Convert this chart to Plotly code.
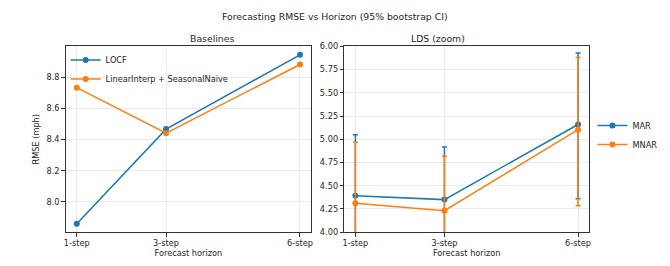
import plotly.graph_objects as go

horizons = [1, 3, 6]
horizon_labels = ["1-step", "3-step", "6-step"]

locf = [7.86, 8.467, 8.944]
linear_seasonal = [8.733, 8.441, 8.882]

mar = [4.391, 4.350, 5.159]
mar_upper = [5.048, 4.916, 5.930]
mar_lower = [3.73, 3.78, 4.360]

mnar = [4.311, 4.231, 5.103]
mnar_upper = [4.968, 4.817, 5.880]
mnar_lower = [3.65, 3.64, 4.283]

BLUE = "#1f77b4"
ORANGE = "#ff7f0e"
FONT = "DejaVu Sans"
TXT = "#262626"
FS = 8.2
TFS = 9.3

fig = go.Figure()

fig.add_trace(go.Scatter(x=horizons, y=locf, mode="lines+markers", name="LOCF",
                         line=dict(color=BLUE, width=1.5), marker=dict(size=6, color=BLUE),
                         xaxis="x", yaxis="y", legend="legend"))
fig.add_trace(go.Scatter(x=horizons, y=linear_seasonal, mode="lines+markers",
                         name="LinearInterp + SeasonalNaive",
                         line=dict(color=ORANGE, width=1.5), marker=dict(size=6, color=ORANGE),
                         xaxis="x", yaxis="y", legend="legend"))

def err(vals, up, lo):
    return ([u - v for u, v in zip(up, vals)], [v - l for v, l in zip(vals, lo)])

e_up, e_lo = err(mar, mar_upper, mar_lower)
fig.add_trace(go.Scatter(x=horizons, y=mar, mode="lines+markers", name="MAR",
                         line=dict(color=BLUE, width=1.5), marker=dict(size=6, color=BLUE),
                         error_y=dict(type="data", symmetric=False, array=e_up, arrayminus=e_lo,
                                      color=BLUE, thickness=1.5, width=2.5),
                         xaxis="x2", yaxis="y2", legend="legend2"))
e_up, e_lo = err(mnar, mnar_upper, mnar_lower)
fig.add_trace(go.Scatter(x=horizons, y=mnar, mode="lines+markers", name="MNAR",
                         line=dict(color=ORANGE, width=1.5), marker=dict(size=6, color=ORANGE),
                         error_y=dict(type="data", symmetric=False, array=e_up, arrayminus=e_lo,
                                      color=ORANGE, thickness=1.5, width=2.5),
                         xaxis="x2", yaxis="y2", legend="legend2"))

axis_common = dict(showline=True, linecolor="#333333", linewidth=1, mirror=True,
                   ticks="outside", ticklen=3.5, tickcolor="#333333", tickwidth=0.8,
                   showgrid=True, gridcolor="#ebebeb", gridwidth=0.8, zeroline=False,
                   tickfont=dict(family=FONT, size=FS, color=TXT))

ydom = [1 - 236 / 266, 1 - 43 / 266]
fig.update_layout(
    width=670, height=266,
    margin=dict(l=0, r=0, t=0, b=0),
    paper_bgcolor="white", plot_bgcolor="white",
    font=dict(family=FONT, size=FS, color=TXT),
    xaxis=dict(domain=[64 / 670, 311 / 670], range=[0.75, 6.25], tickvals=horizons,
               ticktext=horizon_labels, anchor="y",
               title=dict(text="Forecast horizon", font=dict(size=FS), standoff=1), **axis_common),
    yaxis=dict(domain=ydom, range=[7.806, 8.998], tickvals=[8.0, 8.2, 8.4, 8.6, 8.8],
               tickformat=".1f", anchor="x",
               title=dict(text="RMSE (mph)", font=dict(size=FS), standoff=5), **axis_common),
    xaxis2=dict(domain=[344.3 / 670, 590.7 / 670], range=[0.75, 6.25], tickvals=horizons,
                ticktext=horizon_labels, anchor="y2",
                title=dict(text="Forecast horizon", font=dict(size=FS), standoff=1), **axis_common),
    yaxis2=dict(domain=ydom, range=[4.0, 6.0], tickvals=[4.0, 4.25, 4.5, 4.75, 5.0, 5.25, 5.5, 5.75, 6.0],
                tickformat=".2f", anchor="x2", **axis_common),
    legend=dict(x=64 / 670, y=1 - 42 / 266, xanchor="left", yanchor="top",
                bgcolor="rgba(255,255,255,0)", font=dict(family=FONT, size=FS, color=TXT),
                tracegroupgap=0, itemwidth=30),
    legend2=dict(x=594 / 670, y=1 - 135 / 266, xanchor="left", yanchor="middle",
                 bgcolor="rgba(255,255,255,0)", font=dict(family=FONT, size=FS, color=TXT),
                 itemwidth=30),
    annotations=[
        dict(text="Forecasting RMSE vs Horizon (95% bootstrap CI)", x=0.5, y=1 - 12 / 266,
             xref="paper", yref="paper", showarrow=False, yanchor="middle",
             font=dict(family=FONT, size=TFS, color=TXT)),
        dict(text="Baselines", x=187.5 / 670, y=1 - 35 / 266, xref="paper", yref="paper",
             showarrow=False, yanchor="middle", font=dict(family=FONT, size=TFS, color=TXT)),
        dict(text="LDS (zoom)", x=467.5 / 670, y=1 - 35 / 266, xref="paper", yref="paper",
             showarrow=False, yanchor="middle", font=dict(family=FONT, size=TFS, color=TXT)),
    ],
)

fig.write_html("out.html", config={"displayModeBar": False},
               post_script="document.body.style.margin='0';document.body.style.overflow='hidden';")
